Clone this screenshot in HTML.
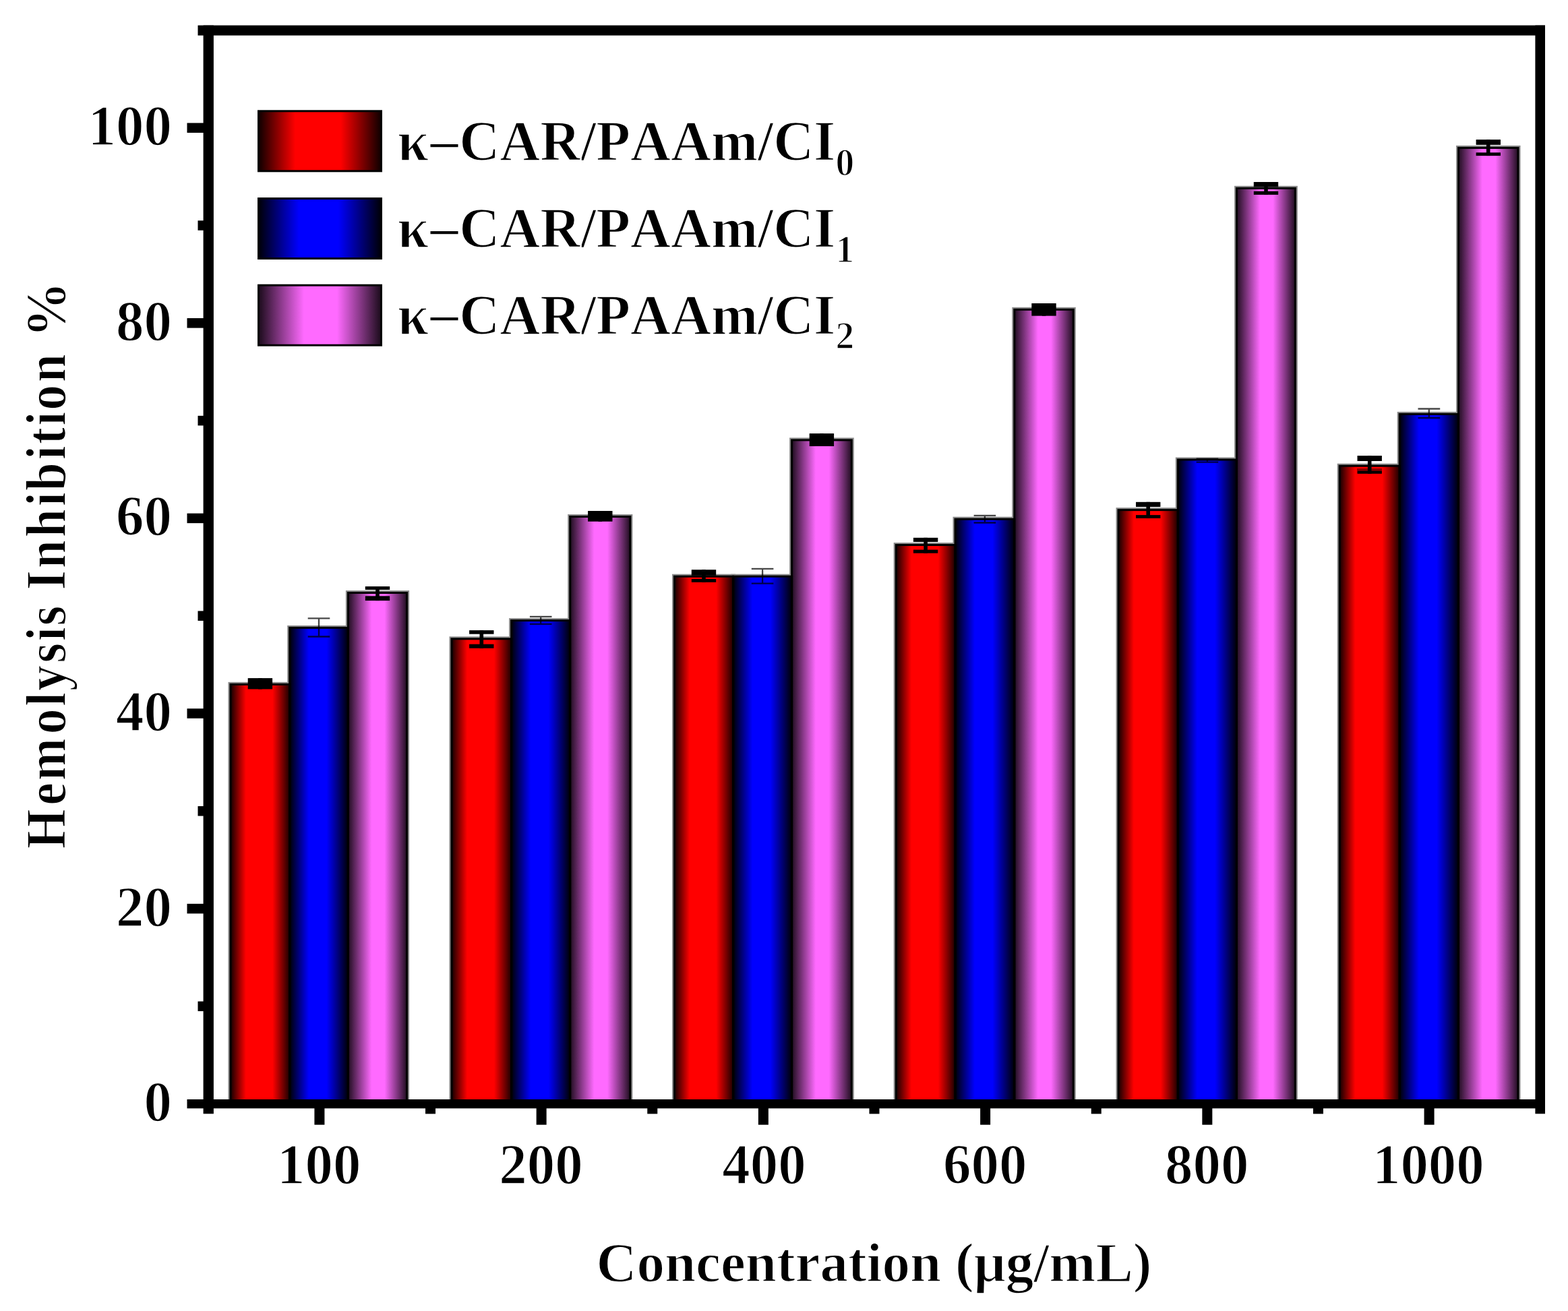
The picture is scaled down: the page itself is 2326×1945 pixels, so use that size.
<!DOCTYPE html><html><head><meta charset="utf-8"><style>html,body{margin:0;padding:0;background:#fff;}svg{display:block;}text{font-family:"Liberation Serif","Times New Roman",serif;font-weight:bold;font-kerning:none;stroke:#fff;stroke-width:1.6px;}</style></head><body>
<svg width="2326" height="1945" viewBox="0 0 2326 1945">
<rect x="0" y="0" width="2326" height="1945" fill="#fff"/>
<defs>
<linearGradient id="gr" x1="0" y1="0" x2="1" y2="0"><stop offset="0" stop-color="#140000"/><stop offset="0.26" stop-color="#ff0000"/><stop offset="0.71" stop-color="#ff0000"/><stop offset="1" stop-color="#1a0000"/></linearGradient>
<linearGradient id="gb" x1="0" y1="0" x2="1" y2="0"><stop offset="0" stop-color="#000005"/><stop offset="0.33" stop-color="#0000ff"/><stop offset="0.63" stop-color="#0000ff"/><stop offset="1" stop-color="#000005"/></linearGradient>
<linearGradient id="gp" x1="0" y1="0" x2="1" y2="0"><stop offset="0" stop-color="#1f0d1f"/><stop offset="0.4" stop-color="#ff6aff"/><stop offset="0.62" stop-color="#ff6aff"/><stop offset="1" stop-color="#1f0d1f"/></linearGradient>
<linearGradient id="lr" x1="0" y1="0" x2="1" y2="0"><stop offset="0" stop-color="#0d0000"/><stop offset="0.3" stop-color="#ff0000"/><stop offset="0.67" stop-color="#ff0000"/><stop offset="1" stop-color="#0d0000"/></linearGradient>
<linearGradient id="lb" x1="0" y1="0" x2="1" y2="0"><stop offset="0" stop-color="#000005"/><stop offset="0.33" stop-color="#0000ff"/><stop offset="0.65" stop-color="#0000ff"/><stop offset="1" stop-color="#000005"/></linearGradient>
<linearGradient id="lp" x1="0" y1="0" x2="1" y2="0"><stop offset="0" stop-color="#1a0b1a"/><stop offset="0.37" stop-color="#ff6aff"/><stop offset="0.64" stop-color="#ff6aff"/><stop offset="1" stop-color="#1a0b1a"/></linearGradient>
</defs>
<rect x="342.0" y="1015.4" width="87.7" height="624.6" fill="none" stroke="#8c8c8c" stroke-width="7"/>
<rect x="429.7" y="931.4" width="86.7" height="708.6" fill="none" stroke="#8c8c8c" stroke-width="7"/>
<rect x="516.4" y="879.5" width="87.2" height="760.5" fill="none" stroke="#8c8c8c" stroke-width="7"/>
<rect x="670.0" y="947.8" width="88.6" height="692.2" fill="none" stroke="#8c8c8c" stroke-width="7"/>
<rect x="758.6" y="920.6" width="87.1" height="719.4" fill="none" stroke="#8c8c8c" stroke-width="7"/>
<rect x="845.7" y="766.5" width="89.2" height="873.5" fill="none" stroke="#8c8c8c" stroke-width="7"/>
<rect x="1000.5" y="855.2" width="87.1" height="784.8" fill="none" stroke="#8c8c8c" stroke-width="7"/>
<rect x="1087.6" y="855.2" width="87.0" height="784.8" fill="none" stroke="#8c8c8c" stroke-width="7"/>
<rect x="1174.6" y="652.9" width="88.7" height="987.1" fill="none" stroke="#8c8c8c" stroke-width="7"/>
<rect x="1329.2" y="808.5" width="87.8" height="831.5" fill="none" stroke="#8c8c8c" stroke-width="7"/>
<rect x="1417.0" y="770.2" width="87.8" height="869.8" fill="none" stroke="#8c8c8c" stroke-width="7"/>
<rect x="1504.8" y="459.3" width="87.5" height="1180.7" fill="none" stroke="#8c8c8c" stroke-width="7"/>
<rect x="1659.0" y="756.6" width="88.3" height="883.4" fill="none" stroke="#8c8c8c" stroke-width="7"/>
<rect x="1747.3" y="682.0" width="87.2" height="958.0" fill="none" stroke="#8c8c8c" stroke-width="7"/>
<rect x="1834.5" y="279.3" width="86.9" height="1360.7" fill="none" stroke="#8c8c8c" stroke-width="7"/>
<rect x="1987.2" y="691.2" width="89.0" height="948.8" fill="none" stroke="#8c8c8c" stroke-width="7"/>
<rect x="2076.2" y="614.4" width="87.3" height="1025.6" fill="none" stroke="#8c8c8c" stroke-width="7"/>
<rect x="2163.5" y="219.4" width="88.5" height="1420.6" fill="none" stroke="#8c8c8c" stroke-width="7"/>
<rect x="342.0" y="1015.4" width="87.7" height="624.6" fill="url(#gr)"/>
<rect x="429.7" y="931.4" width="86.7" height="708.6" fill="url(#gb)"/>
<rect x="516.4" y="879.5" width="87.2" height="760.5" fill="url(#gp)"/>
<rect x="670.0" y="947.8" width="88.6" height="692.2" fill="url(#gr)"/>
<rect x="758.6" y="920.6" width="87.1" height="719.4" fill="url(#gb)"/>
<rect x="845.7" y="766.5" width="89.2" height="873.5" fill="url(#gp)"/>
<rect x="1000.5" y="855.2" width="87.1" height="784.8" fill="url(#gr)"/>
<rect x="1087.6" y="855.2" width="87.0" height="784.8" fill="url(#gb)"/>
<rect x="1174.6" y="652.9" width="88.7" height="987.1" fill="url(#gp)"/>
<rect x="1329.2" y="808.5" width="87.8" height="831.5" fill="url(#gr)"/>
<rect x="1417.0" y="770.2" width="87.8" height="869.8" fill="url(#gb)"/>
<rect x="1504.8" y="459.3" width="87.5" height="1180.7" fill="url(#gp)"/>
<rect x="1659.0" y="756.6" width="88.3" height="883.4" fill="url(#gr)"/>
<rect x="1747.3" y="682.0" width="87.2" height="958.0" fill="url(#gb)"/>
<rect x="1834.5" y="279.3" width="86.9" height="1360.7" fill="url(#gp)"/>
<rect x="1987.2" y="691.2" width="89.0" height="948.8" fill="url(#gr)"/>
<rect x="2076.2" y="614.4" width="87.3" height="1025.6" fill="url(#gb)"/>
<rect x="2163.5" y="219.4" width="88.5" height="1420.6" fill="url(#gp)"/>
<rect x="342.0" y="1015.4" width="87.7" height="624.6" fill="none" stroke="#000" stroke-width="3"/>
<rect x="429.7" y="931.4" width="86.7" height="708.6" fill="none" stroke="#000" stroke-width="3"/>
<rect x="516.4" y="879.5" width="87.2" height="760.5" fill="none" stroke="#000" stroke-width="3"/>
<rect x="670.0" y="947.8" width="88.6" height="692.2" fill="none" stroke="#000" stroke-width="3"/>
<rect x="758.6" y="920.6" width="87.1" height="719.4" fill="none" stroke="#000" stroke-width="3"/>
<rect x="845.7" y="766.5" width="89.2" height="873.5" fill="none" stroke="#000" stroke-width="3"/>
<rect x="1000.5" y="855.2" width="87.1" height="784.8" fill="none" stroke="#000" stroke-width="3"/>
<rect x="1087.6" y="855.2" width="87.0" height="784.8" fill="none" stroke="#000" stroke-width="3"/>
<rect x="1174.6" y="652.9" width="88.7" height="987.1" fill="none" stroke="#000" stroke-width="3"/>
<rect x="1329.2" y="808.5" width="87.8" height="831.5" fill="none" stroke="#000" stroke-width="3"/>
<rect x="1417.0" y="770.2" width="87.8" height="869.8" fill="none" stroke="#000" stroke-width="3"/>
<rect x="1504.8" y="459.3" width="87.5" height="1180.7" fill="none" stroke="#000" stroke-width="3"/>
<rect x="1659.0" y="756.6" width="88.3" height="883.4" fill="none" stroke="#000" stroke-width="3"/>
<rect x="1747.3" y="682.0" width="87.2" height="958.0" fill="none" stroke="#000" stroke-width="3"/>
<rect x="1834.5" y="279.3" width="86.9" height="1360.7" fill="none" stroke="#000" stroke-width="3"/>
<rect x="1987.2" y="691.2" width="89.0" height="948.8" fill="none" stroke="#000" stroke-width="3"/>
<rect x="2076.2" y="614.4" width="87.3" height="1025.6" fill="none" stroke="#000" stroke-width="3"/>
<rect x="2163.5" y="219.4" width="88.5" height="1420.6" fill="none" stroke="#000" stroke-width="3"/>
<g fill="#000">
<rect x="367.7" y="1006.1" width="36.4" height="8.1"/>
<rect x="367.7" y="1014.2" width="36.4" height="8.2"/>
<rect x="383.1" y="1006.1" width="5.6" height="16.3"/>
<rect x="541.8" y="870.0" width="36.4" height="5.0"/>
<rect x="541.8" y="884.3" width="36.4" height="6.8"/>
<rect x="557.2" y="870.0" width="5.6" height="21.1"/>
<rect x="696.1" y="935.1" width="36.4" height="5.6"/>
<rect x="696.1" y="955.7" width="36.4" height="6.0"/>
<rect x="711.5" y="935.1" width="5.6" height="26.6"/>
<rect x="872.1" y="758.0" width="36.4" height="7.5"/>
<rect x="872.1" y="765.5" width="36.4" height="8.2"/>
<rect x="887.5" y="758.0" width="5.6" height="15.7"/>
<rect x="1025.8" y="845.2" width="36.4" height="8.6"/>
<rect x="1025.8" y="859.0" width="36.4" height="4.8"/>
<rect x="1041.2" y="845.2" width="5.6" height="18.6"/>
<rect x="1200.7" y="643.1" width="36.4" height="9.4"/>
<rect x="1200.7" y="652.5" width="36.4" height="9.5"/>
<rect x="1216.1" y="643.1" width="5.6" height="18.9"/>
<rect x="1354.9" y="797.8" width="36.4" height="6.2"/>
<rect x="1354.9" y="815.6" width="36.4" height="5.1"/>
<rect x="1370.3" y="797.8" width="5.6" height="22.9"/>
<rect x="1530.3" y="450.0" width="36.4" height="9.3"/>
<rect x="1530.3" y="459.3" width="36.4" height="9.3"/>
<rect x="1545.8" y="450.0" width="5.6" height="18.6"/>
<rect x="1685.0" y="744.8" width="36.4" height="7.2"/>
<rect x="1685.0" y="764.1" width="36.4" height="4.8"/>
<rect x="1700.4" y="744.8" width="5.6" height="24.1"/>
<rect x="1859.8" y="270.0" width="36.4" height="7.4"/>
<rect x="1859.8" y="283.7" width="36.4" height="5.2"/>
<rect x="1875.2" y="270.0" width="5.6" height="18.9"/>
<rect x="2013.5" y="676.1" width="36.4" height="7.9"/>
<rect x="2013.5" y="698.4" width="36.4" height="4.4"/>
<rect x="2028.9" y="676.1" width="5.6" height="26.7"/>
<rect x="2189.6" y="207.1" width="36.4" height="7.8"/>
<rect x="2189.6" y="226.3" width="36.4" height="4.8"/>
<rect x="2204.9" y="207.1" width="5.6" height="24.0"/>
<rect x="2013" y="695" width="37" height="3.4" fill-opacity="0.45"/>
</g>
<path d="M456.7 917.4H489.3M456.7 944.5H489.3M473.0 917.4V944.5" stroke="#000" stroke-opacity="0.72" stroke-width="2.3" fill="none"/>
<path d="M785.9 914.8H818.5M785.9 925.9H818.5M802.2 914.8V925.9" stroke="#000" stroke-opacity="0.72" stroke-width="2.3" fill="none"/>
<path d="M1114.8 843.8H1147.4M1114.8 865.7H1147.4M1131.1 843.8V865.7" stroke="#000" stroke-opacity="0.72" stroke-width="2.3" fill="none"/>
<path d="M1444.6 764.8H1477.2M1444.6 775.5H1477.2M1460.9 764.8V775.5" stroke="#000" stroke-opacity="0.72" stroke-width="2.3" fill="none"/>
<path d="M1774.6 680.6H1807.2M1774.6 685.6H1807.2M1790.9 680.6V685.6" stroke="#000" stroke-opacity="0.72" stroke-width="2.3" fill="none"/>
<path d="M2103.5 606.5H2136.2M2103.5 620.0H2136.2M2119.8 606.5V620.0" stroke="#000" stroke-opacity="0.72" stroke-width="2.3" fill="none"/>
<g fill="#000">
<rect x="301.6" y="37.6" width="15.3" height="1614.8"/>
<rect x="2277.4" y="37.6" width="14.6" height="1614.8"/>
<rect x="293.5" y="37.6" width="1998.5" height="15"/>
<rect x="277.5" y="1631" width="2014.5" height="13.4"/>
<rect x="277.5" y="1340.85" width="24.5" height="14.5"/>
<rect x="277.5" y="1051.25" width="24.5" height="14.5"/>
<rect x="277.5" y="761.65" width="24.5" height="14.5"/>
<rect x="277.5" y="472.05" width="24.5" height="14.5"/>
<rect x="277.5" y="182.45" width="24.5" height="14.5"/>
<rect x="293.5" y="1485.65" width="8.5" height="14.5"/>
<rect x="293.5" y="1196.05" width="8.5" height="14.5"/>
<rect x="293.5" y="906.45" width="8.5" height="14.5"/>
<rect x="293.5" y="616.85" width="8.5" height="14.5"/>
<rect x="293.5" y="327.25" width="8.5" height="14.5"/>
<rect x="466.42" y="1644" width="15" height="24.7"/>
<rect x="795.65" y="1644" width="15" height="24.7"/>
<rect x="1124.88" y="1644" width="15" height="24.7"/>
<rect x="1454.12" y="1644" width="15" height="24.7"/>
<rect x="1783.35" y="1644" width="15" height="24.7"/>
<rect x="2112.58" y="1644" width="15" height="24.7"/>
<rect x="631.03" y="1644" width="15" height="8.5"/>
<rect x="960.27" y="1644" width="15" height="8.5"/>
<rect x="1289.50" y="1644" width="15" height="8.5"/>
<rect x="1618.73" y="1644" width="15" height="8.5"/>
<rect x="1947.97" y="1644" width="15" height="8.5"/>
</g>
<text transform="translate(254.95 1663.1) scale(0.976 1)" font-size="85" text-anchor="end">0</text>
<text transform="translate(254.95 1373.5) scale(0.976 1)" font-size="85" text-anchor="end">20</text>
<text transform="translate(254.95 1083.9) scale(0.976 1)" font-size="85" text-anchor="end">40</text>
<text transform="translate(254.95 794.3) scale(0.976 1)" font-size="85" text-anchor="end">60</text>
<text transform="translate(254.95 504.7) scale(0.976 1)" font-size="85" text-anchor="end">80</text>
<text transform="translate(254.95 215.1) scale(0.976 1)" font-size="85" text-anchor="end">100</text>
<text transform="translate(473.26 1755.7) scale(0.976 1)" font-size="85" text-anchor="middle">100</text>
<text transform="translate(802.53 1755.7) scale(0.976 1)" font-size="85" text-anchor="middle">200</text>
<text transform="translate(1133.50 1755.7) scale(0.976 1)" font-size="85" text-anchor="middle">400</text>
<text transform="translate(1461.17 1755.7) scale(0.976 1)" font-size="85" text-anchor="middle">600</text>
<text transform="translate(1790.20 1755.7) scale(0.976 1)" font-size="85" text-anchor="middle">800</text>
<text transform="translate(2118.86 1755.7) scale(0.976 1)" font-size="85" text-anchor="middle">1000</text>
<rect x="383.5" y="164.8" width="182" height="89" fill="url(#lr)" stroke="#000" stroke-width="3"/>
<text x="0" y="0" transform="translate(593.64 238.3) scale(0.9725 1)" font-size="85.4"><tspan dx="-4.1">κ</tspan><tspan dx="2.6" dy="-2.3">–</tspan><tspan dx="1.5" dy="2.3">CAR/PAAm/CI</tspan><tspan font-size="57" dy="21.7">0</tspan></text>
<rect x="383.5" y="294.5" width="182" height="89" fill="url(#lb)" stroke="#000" stroke-width="3"/>
<text x="0" y="0" transform="translate(593.64 367.2) scale(0.9725 1)" font-size="85.4"><tspan dx="-4.1">κ</tspan><tspan dx="2.6" dy="-2.3">–</tspan><tspan dx="1.5" dy="2.3">CAR/PAAm/CI</tspan><tspan font-size="57" dy="21.7">1</tspan></text>
<rect x="383.5" y="423.2" width="182" height="89" fill="url(#lp)" stroke="#000" stroke-width="3"/>
<text x="0" y="0" transform="translate(593.64 495.7) scale(0.9725 1)" font-size="85.4"><tspan dx="-4.1">κ</tspan><tspan dx="2.6" dy="-2.3">–</tspan><tspan dx="1.5" dy="2.3">CAR/PAAm/CI</tspan><tspan font-size="57" dy="21.7">2</tspan></text>
<text transform="translate(97 1259.4) rotate(-90) scale(0.9 1)" font-size="84.2" x="0.13 71.76 112.51 189.17 234.98 260.45 306.57 342.27 367.88 403.42 426.66 462.38 513.48 564.58 590.05 641.25 666.74 697.40 723.06 768.93" y="0">Hemolysis Inhibition</text>
<text transform="translate(97 1259.4) rotate(-90) scale(0.9826 1)" font-size="84.2" x="771.98" y="0">%</text>
<text x="884.5" y="1900.5" font-size="83">Concentration (μg/mL)</text>
</svg></body></html>
